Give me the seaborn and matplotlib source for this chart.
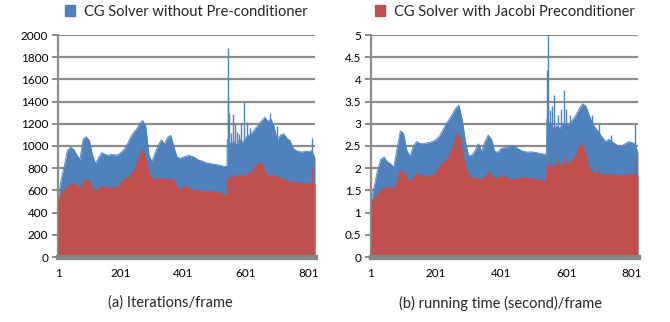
import numpy as np
import matplotlib
matplotlib.use("Agg")
import matplotlib.pyplot as plt
import seaborn as sns
from matplotlib.patches import Patch

# -------------------------------
# Data (one sample every 10 frames)
# -------------------------------
frames = list(range(1, 822, 10))

iter_plain = [520, 700, 820, 960, 990, 970, 920, 880, 1060, 1085,
              1050, 920, 840, 900, 940, 925, 915, 925, 920, 920,
              940, 965, 1010, 1070, 1120, 1150, 1200, 1230, 1180, 920,
              860, 940, 1010, 1055, 1020, 1080, 1095, 990, 900, 890,
              900, 910, 915, 905, 890, 870, 865, 850, 845, 840,
              835, 830, 825, 815, 1060, 1020, 1040, 1010, 1060, 1030,
              1080, 1100, 1120, 1160, 1190, 1230, 1260, 1220, 1240, 1170,
              1050, 1100, 1110, 1070, 1050, 980, 960, 950, 945, 955,
              950, 960, 890]

iter_jacobi = [510, 560, 605, 635, 650, 660, 650, 610, 680, 700,
               690, 610, 605, 610, 640, 630, 625, 620, 630, 625,
               670, 700, 715, 730, 780, 830, 910, 970, 880, 760,
               700, 700, 705, 710, 705, 700, 700, 690, 620, 615,
               630, 640, 615, 610, 600, 600, 590, 585, 590, 595,
               590, 585, 575, 560, 700, 720, 725, 720, 740, 725,
               730, 745, 780, 820, 845, 840, 770, 730, 725, 720,
               725, 710, 695, 690, 680, 670, 675, 665, 660, 660,
               665, 660, 665]

time_plain = [1.25, 1.60, 1.95, 2.20, 2.25, 2.15, 2.10, 2.02, 2.45, 2.84,
              2.78, 2.40, 2.27, 2.50, 2.60, 2.56, 2.55, 2.57, 2.58, 2.60,
              2.65, 2.72, 2.85, 3.00, 3.10, 3.22, 3.35, 3.42, 3.10, 2.60,
              2.28, 2.30, 2.40, 2.55, 2.38, 2.60, 2.75, 2.65, 2.38, 2.36,
              2.45, 2.46, 2.48, 2.50, 2.49, 2.45, 2.40, 2.38, 2.36, 2.37,
              2.36, 2.35, 2.33, 2.32, 3.10, 3.00, 2.90, 2.95, 2.90, 3.00,
              2.95, 3.00, 3.10, 3.20, 3.35, 3.45, 3.40, 3.20, 3.00, 2.90,
              2.80, 2.70, 2.60, 2.65, 2.60, 2.55, 2.50, 2.50, 2.55, 2.60,
              2.58, 2.55, 2.35]

time_jacobi = [1.22, 1.30, 1.42, 1.50, 1.55, 1.57, 1.57, 1.52, 1.70, 1.96,
               1.93, 1.75, 1.74, 1.75, 1.88, 1.86, 1.82, 1.81, 1.82, 1.84,
               1.90, 2.05, 2.12, 2.17, 2.30, 2.45, 2.70, 2.80, 2.35, 2.05,
               1.85, 1.77, 1.77, 1.76, 1.76, 1.80, 1.92, 1.82, 1.78, 1.78,
               1.80, 1.84, 1.77, 1.75, 1.74, 1.76, 1.78, 1.80, 1.78, 1.76,
               1.75, 1.74, 1.73, 1.72, 2.03, 2.05, 2.08, 2.06, 2.10, 2.08,
               2.10, 2.12, 2.18, 2.30, 2.50, 2.54, 2.30, 2.00, 1.90, 1.89,
               1.88, 1.86, 1.85, 1.85, 1.86, 1.85, 1.85, 1.84, 1.85, 1.85,
               1.86, 1.85, 1.85]

# last frame before the jump at frame 541
jump_frame = 540
jump_iter_plain, jump_iter_jacobi = 815, 560
jump_time_plain, jump_time_jacobi = 2.32, 1.72

# single-frame spikes
iter_spike_frames = [543, 545, 548, 553, 559, 566, 572, 580, 586, 594, 604, 615, 676, 700, 810]
iter_spike_vals = [1440, 1880, 1300, 1120, 1285, 1210, 1130, 1110, 1210, 1400, 1216, 1160, 1294, 1180, 1070]
iter_jacobi_spike_frames = [560, 600, 690, 810]
iter_jacobi_spike_vals = [760, 770, 760, 810]

time_spike_frames = [542, 546, 550, 556, 563, 575, 584, 594, 601, 612, 680, 700, 739, 811]
time_spike_vals = [4.21, 5.0, 3.3, 3.4, 3.65, 3.2, 3.33, 3.75, 3.33, 3.2, 3.2, 3.0, 2.75, 3.0]
time_jacobi_spike_frames = [548, 575, 600, 700, 811]
time_jacobi_spike_vals = [2.2, 2.2, 2.25, 2.0, 2.25]

legend_labels = ["CG Solver without Pre-conditioner", "CG Solver with Jacobi Preconditioner"]
captions = ["(a) Iterations/frame", "(b) running time (second)/frame"]
xticks = [1, 201, 401, 601, 801]

BLUE = "#4F81BD"
RED = "#C0504D"
GRID = "#8C8C8C"

sns.set_theme(style="white")
plt.rcParams["font.family"] = ["Lato", "DejaVu Sans"]


def with_jump(values, jump_val):
    x = np.array(frames + [jump_frame])
    y = np.array(values + [jump_val])
    order = np.argsort(x)
    return x[order], y[order]


fig = plt.figure(figsize=(6.7, 3.22), dpi=100)
ax1 = fig.add_axes([58 / 670, 65 / 322, 257 / 670, 222 / 322])
ax2 = fig.add_axes([371 / 670, 65 / 322, 267 / 670, 222 / 322])

panels = [
    (ax1, iter_plain, iter_jacobi, jump_iter_plain, jump_iter_jacobi,
     iter_spike_frames, iter_spike_vals, iter_jacobi_spike_frames, iter_jacobi_spike_vals,
     2000, 200, BLUE, legend_labels[0]),
    (ax2, time_plain, time_jacobi, jump_time_plain, jump_time_jacobi,
     time_spike_frames, time_spike_vals, time_jacobi_spike_frames, time_jacobi_spike_vals,
     5, 0.5, RED, legend_labels[1]),
]

for (ax, plain, jac, jp, jj, sf, sv, jsf, jsv, ymax, ystep, leg_color, leg_label) in panels:
    xb, yb = with_jump(plain, jp)
    xr, yr = with_jump(jac, jj)

    ax.fill_between(xb, 0, yb, color=BLUE, lw=0, zorder=2)
    sns.lineplot(x=xb, y=yb, ax=ax, color=BLUE, lw=0.6, zorder=2)
    ax.vlines(sf, 0, sv, color=BLUE, lw=1.0, zorder=2)

    ax.fill_between(xr, 0, yr, color=RED, lw=0, zorder=3)
    sns.lineplot(x=xr, y=yr, ax=ax, color=RED, lw=0.6, zorder=3)
    ax.vlines(jsf, 0, jsv, color=RED, lw=1.0, zorder=3)

    ax.set_xlim(1, 821)
    ax.set_ylim(0, ymax)
    yt = np.arange(0, ymax + ystep / 2, ystep)
    ax.set_yticks(yt)
    ax.set_yticklabels([f"{v:g}" for v in yt])
    ax.set_xticks(xticks)
    ax.set_xticklabels([str(v) for v in xticks])

    ax.grid(axis="y", color=GRID, lw=1.6)
    ax.grid(axis="x", visible=False)
    ax.set_axisbelow(True)

    for s in ["top", "right"]:
        ax.spines[s].set_visible(False)
    ax.spines["left"].set_color(GRID)
    ax.spines["left"].set_linewidth(1.6)
    ax.spines["bottom"].set_color("#858585")
    ax.spines["bottom"].set_linewidth(3.8)
    ax.spines["bottom"].set_zorder(5)

    ax.tick_params(axis="y", length=4, width=1.4, color=GRID, pad=3,
                   labelsize=8.5, labelcolor="black", left=True)
    ax.tick_params(axis="x", length=0, pad=8, labelsize=8.5, labelcolor="black")

    ax.legend(handles=[Patch(color=leg_color, label=leg_label)],
              loc="center", bbox_to_anchor=(0.5, 1.105), frameon=False,
              fontsize=10.5, handlelength=0.7, handleheight=0.7, handletextpad=0.6,
              borderaxespad=0, borderpad=0)

fig.text(170 / 670, 1 - 303 / 322, captions[0], ha="center", va="center", fontsize=10.5)
fig.text(500 / 670, 1 - 303 / 322, captions[1], ha="center", va="center", fontsize=10.5)

fig.savefig("out.png", dpi=100)
plt.close()
